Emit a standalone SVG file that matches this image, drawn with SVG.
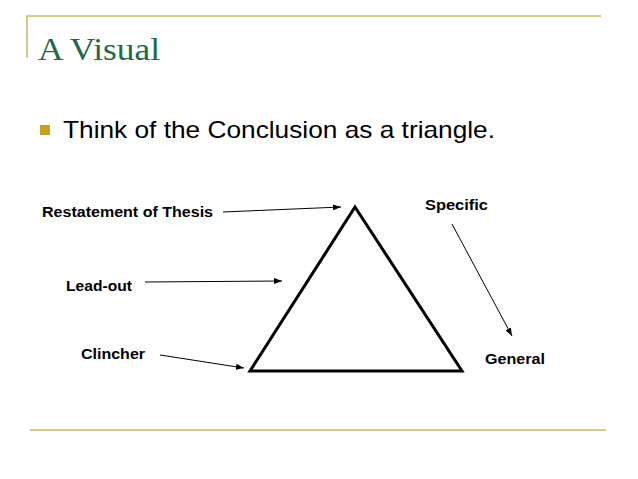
<svg xmlns="http://www.w3.org/2000/svg" width="638" height="479" viewBox="0 0 638 479">
<defs><marker id="ah" markerWidth="8" markerHeight="6" refX="8" refY="3" orient="auto" markerUnits="userSpaceOnUse"><path d="M0,0 L8,3 L0,6 Z" fill="#000"/></marker></defs>
<style>.l{font-family:"Liberation Sans",Arial,sans-serif;font-weight:bold;font-size:14px;fill:#000}.c{stroke:#000;stroke-width:1;fill:none;marker-end:url(#ah)}</style>
<rect width="638" height="479" fill="#fff"/>
<g id="frame" stroke="#c8b96a" stroke-width="1.5" fill="none"><path d="M27,58 V16 H601"/><path d="M30,430 H606"/></g>
<text x="38" y="60" font-family="'Liberation Serif',serif" font-size="32" textLength="122" lengthAdjust="spacingAndGlyphs" fill="#1e6a45">A Visual</text>
<rect x="40" y="125" width="10" height="10" fill="#c8a020"/>
<text x="63" y="138" font-family="'Liberation Sans',Arial,sans-serif" font-size="24" textLength="432" lengthAdjust="spacingAndGlyphs" fill="#000">Think of the Conclusion as a triangle.</text>
<g id="triangle"><path d="M355,207 L462,371 L250,371 Z" fill="none" stroke="#000" stroke-width="3" stroke-linejoin="miter"/></g>
<g id="labels">
<text class="l" x="42" y="217" textLength="171" lengthAdjust="spacingAndGlyphs">Restatement of Thesis</text>
<text class="l" x="66" y="291" textLength="66" lengthAdjust="spacingAndGlyphs">Lead-out</text>
<text class="l" x="81" y="359" textLength="64" lengthAdjust="spacingAndGlyphs">Clincher</text>
<text class="l" x="425" y="210" textLength="63" lengthAdjust="spacingAndGlyphs">Specific</text>
<text class="l" x="485" y="364" textLength="60" lengthAdjust="spacingAndGlyphs">General</text>
</g>
<g id="connectors">
<line class="c" x1="223" y1="212" x2="341" y2="207"/>
<line class="c" x1="145" y1="282" x2="282" y2="281"/>
<line class="c" x1="160" y1="355" x2="244" y2="368"/>
<line class="c" x1="452" y1="224" x2="512" y2="336"/>
</g>
</svg>
